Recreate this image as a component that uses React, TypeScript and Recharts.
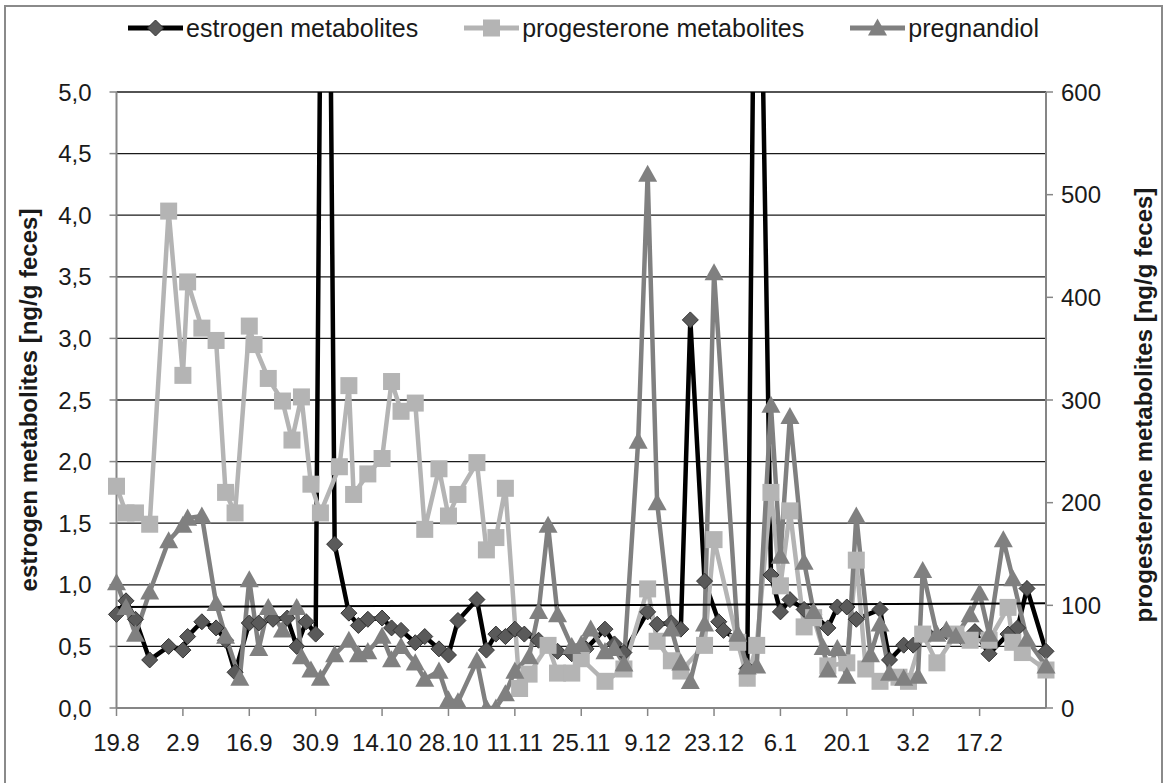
import React from 'react';
import { LineChart, Line, XAxis, YAxis, CartesianGrid, ReferenceLine } from 'recharts';

// x axis: days since 19.8, labelled every two weeks
const tickDays = [0, 14, 28, 42, 56, 70, 84, 98, 112, 126, 140, 154, 168, 182];
const tickLabels = ['19.8', '2.9', '16.9', '30.9', '14.10', '28.10', '11.11', '25.11', '9.12', '23.12', '6.1', '20.1', '3.2', '17.2'];

// estrogen metabolites, left axis
const estrogenDays = [0, 2, 4, 7, 11, 14, 15, 18, 21, 23, 25, 28, 30, 33, 36, 38, 40, 42, 44, 46, 49, 51, 53, 56, 58, 60, 63, 65, 68, 70, 72, 76, 78, 80, 82, 84, 86, 89, 93, 96, 99, 103, 105, 107, 112, 114, 117, 119, 121, 124, 127, 128, 131, 133, 135, 138, 140, 142, 145, 147, 150, 152, 154, 156, 161, 163, 166, 168, 171, 175, 178, 181, 184, 188, 190, 192, 196];
const estrogenValues = [0.76, 0.87, 0.72, 0.39, 0.5, 0.47, 0.58, 0.7, 0.65, 0.55, 0.29, 0.69, 0.69, 0.72, 0.73, 0.5, 0.7, 0.6, 10.8, 1.33, 0.77, 0.67, 0.72, 0.73, 0.65, 0.63, 0.53, 0.58, 0.48, 0.43, 0.71, 0.88, 0.47, 0.6, 0.58, 0.64, 0.6, 0.55, 0.46, 0.44, 0.48, 0.64, 0.52, 0.45, 0.78, 0.68, 0.69, 0.64, 3.15, 1.03, 0.7, 0.63, 0.55, 0.32, 8.3, 1.08, 0.78, 0.88, 0.8, 0.76, 0.65, 0.82, 0.82, 0.72, 0.8, 0.39, 0.51, 0.51, 0.6, 0.62, 0.58, 0.62, 0.44, 0.6, 0.65, 0.97, 0.46];

// progesterone metabolites, right axis (ng/g)
const progDays = [0, 2, 4, 7, 11, 14, 15, 18, 21, 23, 25, 28, 29, 32, 35, 37, 39, 41, 43, 47, 49, 50, 53, 56, 58, 60, 63, 65, 68, 70, 72, 76, 78, 80, 82, 85, 87, 91, 93, 96, 98, 103, 107, 112, 114, 117, 119, 124, 126, 131, 133, 135, 138, 140, 142, 145, 147, 150, 154, 156, 158, 161, 165, 167, 170, 173, 177, 180, 184, 188, 189, 191, 196];
const progValues = [216, 190, 190, 179, 484, 324, 415, 370, 358, 210, 190, 372, 354, 321, 299, 261, 303, 218, 190, 235, 314, 208, 228, 243, 318, 289, 297, 174, 233, 187, 208, 239, 154, 166, 214, 19, 33, 61, 34, 34, 48, 26, 38, 116, 65, 46, 36, 61, 164, 64, 29, 61, 210, 119, 192, 79, 88, 41, 44, 144, 38, 26, 30, 26, 72, 44, 72, 66, 66, 98, 64, 54, 37];

// pregnandiol, right axis (ng/g)
const pregDays = [0, 2, 4, 7, 11, 14, 15, 18, 21, 23, 26, 28, 30, 32, 35, 38, 39, 41, 43, 46, 49, 51, 53, 56, 58, 60, 63, 65, 68, 70, 72, 76, 78, 80, 82, 84, 87, 89, 91, 93, 96, 98, 100, 103, 105, 107, 110, 112, 114, 117, 119, 121, 124, 126, 131, 133, 135, 138, 140, 142, 145, 147, 149, 150, 152, 154, 156, 159, 161, 163, 166, 169, 170, 173, 175, 177, 180, 182, 184, 187, 189, 192, 196];
const pregValues = [122, 98, 72, 113, 163, 178, 185, 187, 102, 70, 29, 125, 58, 98, 76, 98, 50, 37, 29, 52, 66, 52, 55, 70, 47, 60, 44, 28, 36, 8, 6, 46, 0, 0, 14, 36, 50, 94, 178, 91, 60, 62, 77, 55, 58, 43, 260, 520, 200, 77, 44, 26, 82, 424, 72, 40, 41, 295, 148, 284, 142, 94, 59, 37, 58, 31, 187, 52, 82, 34, 29, 31, 134, 72, 76, 70, 91, 112, 72, 164, 126, 67, 41];

// thin black line across the plot (start / end on the left axis)
const trendValues = [0.82, 0.85];

const leftTicks = [0, 0.5, 1, 1.5, 2, 2.5, 3, 3.5, 4, 4.5, 5];
const rightTicks = [0, 100, 200, 300, 400, 500, 600];

const FONT = '"Liberation Sans", Arial, sans-serif';
const FS = 24;
const TEXT = '#1a1a1a';
const AXIS = '#868686';

const toPoints = (days: number[], values: number[]) => days.map((day, i) => ({ day, value: values[i] }));

const Diamond = ({ cx, cy, size = 16 }: any) => {
  const h = size / 2;
  return <path d={`M${cx},${cy - h}L${cx + h},${cy}L${cx},${cy + h}L${cx - h},${cy}Z`} fill="#5a5a5a" stroke="#333" strokeWidth={1} />;
};
const Square = ({ cx, cy, size = 17 }: any) => (
  <rect x={cx - size / 2} y={cy - size / 2} width={size} height={size} fill="#b4b4b4" />
);
const Triangle = ({ cx, cy, size = 19 }: any) => {
  const h = size / 2;
  return <path d={`M${cx},${cy - h}L${cx + h},${cy + h * 0.8}L${cx - h},${cy + h * 0.8}Z`} fill="#808080" />;
};

const series = [
  { name: 'estrogen metabolites', data: toPoints(estrogenDays, estrogenValues), axis: 'left', color: '#000000', Marker: Diamond },
  { name: 'progesterone metabolites', data: toPoints(progDays, progValues), axis: 'right', color: '#b4b4b4', Marker: Square },
  { name: 'pregnandiol', data: toPoints(pregDays, pregValues), axis: 'right', color: '#808080', Marker: Triangle },
];

const AxisTitle = ({ viewBox, text, dx, dy = 0 }: any) => {
  if (!viewBox) return null;
  const x = viewBox.x + dx;
  const y = viewBox.y + viewBox.height / 2 + dy;
  return (
    <text x={x} y={y} transform={`rotate(-90 ${x} ${y})`} textAnchor="middle" dominantBaseline="central"
      fontFamily={FONT} fontSize={FS} fontWeight="bold" fill={TEXT}>
      {text}
    </text>
  );
};

const fmtLeft = (v: number) => v.toFixed(1).replace('.', ',');
const tickStyle = { fontSize: FS, fontFamily: FONT, fill: TEXT };

export default function App() {
  return (
    <div style={{ position: 'fixed', left: 0, top: 0, width: 1167, height: 783, background: '#fff', overflow: 'hidden' }}>
      <div style={{ position: 'absolute', left: 4, top: 5, width: 1155, height: 800, border: '2px solid #8a8a8a' }} />

      <div style={{ position: 'absolute', left: 0, top: 10, width: 1167, height: 36, display: 'flex', justifyContent: 'center', alignItems: 'center', gap: 46, fontFamily: FONT, fontSize: 25, color: TEXT }}>
        {series.map(s => (
          <div key={s.name} style={{ display: 'flex', alignItems: 'center' }}>
            <svg width={55} height={24}>
              <line x1={0} y1={12} x2={55} y2={12} stroke={s.color} strokeWidth={5} />
              <s.Marker cx={27.5} cy={12} />
            </svg>
            <span style={{ marginLeft: 3 }}>{s.name}</span>
          </div>
        ))}
      </div>

      <div style={{ position: 'absolute', left: 0, top: 0 }}>
        <LineChart width={1167} height={783} margin={{ top: 92, right: 0, bottom: 0, left: 0 }}>
          <CartesianGrid yAxisId="left" vertical={false} stroke="#1a1a1a" strokeWidth={1.3} />
          <XAxis dataKey="day" type="number" domain={[0, 196]} ticks={tickDays} interval={0}
            tickFormatter={(d: number) => tickLabels[tickDays.indexOf(d)]}
            height={75} tickSize={8} tickMargin={18}
            axisLine={{ stroke: AXIS, strokeWidth: 2 }} tickLine={{ stroke: AXIS, strokeWidth: 1.5 }}
            tick={tickStyle} />
          <YAxis yAxisId="left" domain={[0, 5]} ticks={leftTicks} allowDataOverflow width={116.5}
            tickFormatter={fmtLeft} tickSize={7} tickMargin={18}
            axisLine={{ stroke: AXIS, strokeWidth: 2 }} tickLine={{ stroke: AXIS, strokeWidth: 1.5 }}
            tick={tickStyle}
            label={<AxisTitle text="estrogen metabolites [ng/g feces]" dx={28} />} />
          <YAxis yAxisId="right" orientation="right" domain={[0, 600]} ticks={rightTicks} allowDataOverflow width={121}
            tickSize={7} tickMargin={8}
            axisLine={{ stroke: AXIS, strokeWidth: 2 }} tickLine={{ stroke: AXIS, strokeWidth: 1.5 }}
            tick={tickStyle}
            label={<AxisTitle text="progesterone metabolites [ng/g feces]" dx={97} dy={5} />} />

          {series.map(s => (
            <Line key={s.name} name={s.name} data={s.data} dataKey="value" yAxisId={s.axis} type="linear"
              stroke={s.color} strokeWidth={4.5} isAnimationActive={false}
              dot={(p: any) => (p.cx == null || p.cy == null ? <g key={`${s.name}-${p.index}`} /> : <s.Marker key={`${s.name}-${p.index}`} cx={p.cx} cy={p.cy} />)}
              activeDot={false} />
          ))}

          <ReferenceLine yAxisId="left" segment={[{ x: 0, y: trendValues[0] }, { x: 196, y: trendValues[1] }]} stroke="#000" strokeWidth={2} />
        </LineChart>
      </div>
    </div>
  );
}
